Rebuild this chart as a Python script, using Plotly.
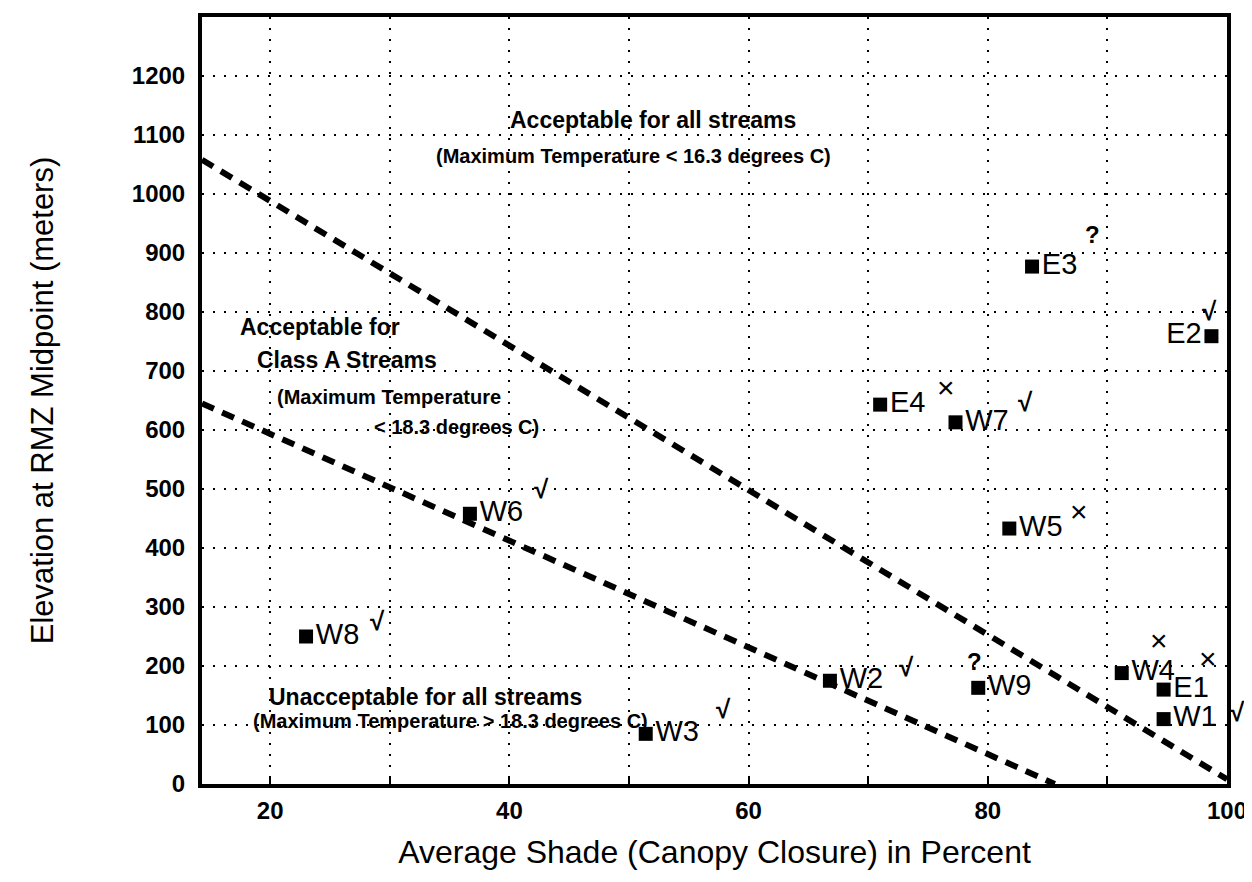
import plotly.graph_objects as go

# sites: average shade (%) vs elevation (m)
site = ["E1", "E2", "E3", "E4", "W1", "W2", "W3", "W4", "W5", "W6", "W7", "W8", "W9"]
shade = [94.7, 98.7, 83.7, 71.0, 94.7, 66.8, 51.4, 91.2, 81.8, 36.7, 77.3, 23.0, 79.2]
elev = [160, 759, 877, 643, 110, 175, 85, 188, 433, 458, 613, 250, 163]
status = ["×", "√", "?", "×", "√", "√", "√", "×", "×", "√", "√", "√", "?"]

# boundary lines
upper_x = [14.3, 100]
upper_y = [1058, 8]
lower_x = [14.3, 85.6]
lower_y = [645, 0]

x_tickvals = [20, 30, 40, 50, 60, 70, 80, 90, 100]
x_ticktext = ["20", "", "40", "", "60", "", "80", "", "100"]
y_tickvals = [0, 100, 200, 300, 400, 500, 600, 700, 800, 900, 1000, 1100, 1200]

FONT = "Liberation Sans, Arial, sans-serif"

# label placement: which side of the marker, and where the status mark sits (px)
label_side = {"E2": "middle left"}
mark_offset = {
    "E1": (44, 31), "E2": (-2, 25), "E3": (60, 32), "E4": (66, 17),
    "W1": (74, 7), "W2": (77, 14), "W3": (78, 25), "W4": (37, 33),
    "W5": (70, 17), "W6": (72, 25), "W7": (70, 20), "W8": (71, 16),
    "W9": (-4, 26),
}
mark_size = {"×": 30, "√": 26, "?": 24}

fig = go.Figure()

fig.add_trace(go.Scatter(x=upper_x, y=upper_y, mode="lines",
                         line=dict(color="black", width=6, dash="13px,9px"),
                         hoverinfo="skip"))
fig.add_trace(go.Scatter(x=lower_x, y=lower_y, mode="lines",
                         line=dict(color="black", width=6, dash="13px,9px"),
                         hoverinfo="skip"))

fig.add_trace(go.Scatter(
    x=shade, y=elev, mode="markers+text", text=site,
    textposition=[label_side.get(s, "middle right") for s in site],
    textfont=dict(family=FONT, size=29, color="black"),
    marker=dict(symbol="square", size=14, color="black"),
    cliponaxis=False,
))

for s, xv, yv, m in zip(site, shade, elev, status):
    dx, dy = mark_offset[s]
    fig.add_annotation(x=xv, y=yv, text=m, showarrow=False,
                       xshift=dx, yshift=dy,
                       font=dict(family=FONT, size=mark_size[m], color="black",
                                 weight="normal" if m == "×" else "bold"))

regions = [
    ("Acceptable for all streams", 52.0, 1125, 23),
    ("(Maximum Temperature < 16.3 degrees C)", 50.4, 1064, 20),
    ("Acceptable for", 24.2, 774, 23),
    ("Class A Streams", 26.4, 718, 23),
    ("(Maximum Temperature", 29.9, 656, 20),
    ("< 18.3 degrees C)", 35.6, 605, 20),
    ("Unacceptable for all streams", 33.0, 148, 23),
    ("(Maximum Temperature > 18.3 degrees C)", 35.1, 106, 20),
]
for t, xv, yv, sz in regions:
    fig.add_annotation(x=xv, y=yv, text=t, showarrow=False,
                       font=dict(family=FONT, size=sz, color="black", weight="bold"))

fig.update_xaxes(
    range=[14.3, 100], tickvals=x_tickvals, ticktext=x_ticktext,
    showgrid=True, gridcolor="black", gridwidth=2, griddash="2px,9px",
    showline=True, linecolor="black", linewidth=4, mirror=True,
    ticks="inside", ticklen=8, tickwidth=2, tickcolor="black",
    tickfont=dict(family=FONT, size=24, color="black", weight="bold"),
    ticklabelstandoff=2, zeroline=False,
    title=dict(text="Average Shade (Canopy Closure) in Percent", standoff=19,
               font=dict(family=FONT, size=32, color="black")),
)
fig.update_yaxes(
    range=[0, 1300], tickvals=y_tickvals,
    showgrid=True, gridcolor="black", gridwidth=2, griddash="2px,9px",
    showline=True, linecolor="black", linewidth=4, mirror=True,
    ticks="", tickfont=dict(family=FONT, size=24, color="black", weight="bold"),
    ticklabelstandoff=8, zeroline=False,
    title=dict(text="Elevation at RMZ Midpoint (meters)", standoff=70,
               font=dict(family=FONT, size=31, color="black")),
)

fig.update_layout(
    width=1252, height=882, showlegend=False,
    plot_bgcolor="white", paper_bgcolor="white",
    margin=dict(l=194, r=33, t=5, b=106),
)

fig.write_html("out.html")
